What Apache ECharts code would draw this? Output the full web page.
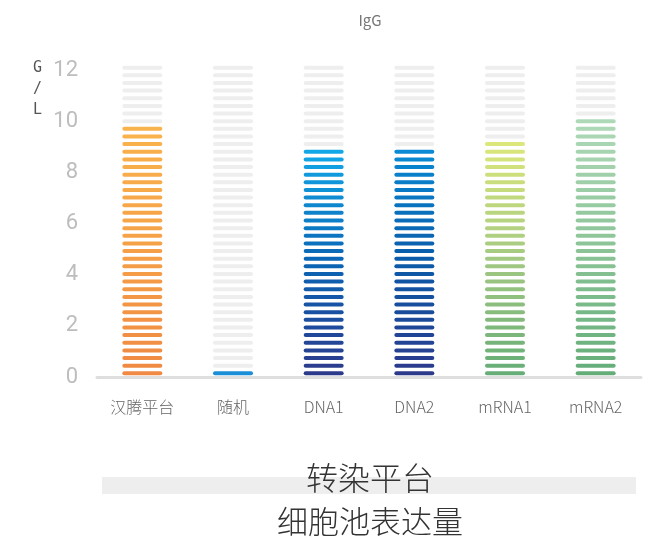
<!DOCTYPE html>
<html>
<head>
<meta charset="utf-8">
<script src="https://cdn.jsdelivr.net/npm/echarts@6/dist/echarts.min.js"></script>
<style>
html,body{margin:0;padding:0;background:#fff;}
#c{width:652px;height:538px;}
</style>
</head>
<body>
<div id="c"></div>
<script>
// ---- data ----
const categories = ['汉腾平台', '随机', 'DNA1', 'DNA2', 'mRNA1', 'mRNA2'];
const values = [9.8, 0.2, 8.9, 8.9, 9.2, 10.1];
const yTicks = [0, 2, 4, 6, 8, 10, 12];
const titleText = 'IgG';
const unitText = 'G\n/\nL';
const footerTop = '转染平台';
const footerBottom = '细胞池表达量';

// ---- styles (bottom -> top gradient stops per bar) ----
const barColors = [
  ['#ef8943', '#f5a048', '#f9b34c'],
  ['#1a8ed6', '#1a8ed6'],
  ['#2c3a8c', '#0a64b4', '#12a8e8'],
  ['#2c3a8c', '#0a5aa8', '#0a8ad4'],
  ['#66ad77', '#a4c982', '#dbe77b'],
  ['#64ad79', '#8cc497', '#aed9b8']
];
const STRIPES = 41;
const yMax = yTicks[yTicks.length - 1];

const chart = echarts.init(document.getElementById('c'), null, {renderer: 'canvas'});

function renderItem(params, api) {
  const idx = api.value(0);
  const val = api.value(1);
  const p0 = api.coord([idx, 0]);
  const pMax = api.coord([idx, yMax]);
  const pv = api.coord([idx, val]);
  const x = p0[0];
  const w = 40, h = 4;
  const firstC = p0[1] - 3.7;
  const lastC = pMax[1] - 2.3;
  const pitch = (firstC - lastC) / (STRIPES - 1);
  let n = 0;
  for (let i = 0; i < STRIPES; i++) {
    const top = firstC - i * pitch - h / 2;
    if (top >= pv[1] - 1) n = i + 1;
  }
  const children = [];
  const stops = barColors[idx];
  for (let i = 0; i < STRIPES; i++) {
    const c = firstC - i * pitch;
    let fill = '#eeeeee';
    if (i < n) {
      const t = n > 1 ? i / (n - 1) : 0;
      fill = echarts.color.lerp(t, stops);
    }
    children.push({
      type: 'rect',
      shape: {x: x - w / 2, y: c - h / 2, width: w, height: h, r: 2},
      style: {fill: fill}
    });
  }
  return {type: 'group', children: children};
}

const option = {
  backgroundColor: '#ffffff',
  animation: false,
  grid: {left: 97, right: 11, top: 70, bottom: 161},
  xAxis: {
    type: 'category',
    data: categories,
    axisLine: {lineStyle: {color: '#dedede', width: 3}},
    axisTick: {show: false},
    axisLabel: {
      color: '#666666',
      fontSize: 16,
      margin: 22,
      fontFamily: 'Noto Sans CJK SC',
      fontWeight: 300
    }
  },
  yAxis: {
    type: 'value',
    min: 0,
    max: yMax,
    interval: 2,
    axisLine: {show: false},
    axisTick: {show: false},
    splitLine: {show: false},
    axisLabel: {
      color: '#bdbdbd',
      fontSize: 22,
      margin: 19,
      fontFamily: 'Roboto',
      formatter: function (v) { return yTicks.indexOf(v) >= 0 ? String(v) : ''; }
    }
  },
  series: [{
    type: 'custom',
    renderItem: renderItem,
    data: values.map(function (v, i) { return [i, v]; }),
    encode: {x: 0, y: 1}
  }],
  graphic: [
    {
      type: 'text', x: 370, y: 20,
      style: {text: titleText, fill: '#777777', fontSize: 15, fontFamily: 'Noto Sans CJK SC', align: 'center', verticalAlign: 'middle'}
    },
    {
      type: 'text', x: 33, y: 58,
      style: {text: unitText, fill: '#555555', fontSize: 15, lineHeight: 21, fontFamily: 'DejaVu Sans Mono', align: 'left', verticalAlign: 'top'}
    },
    {
      type: 'rect', x: 102, y: 477,
      shape: {width: 534, height: 17},
      style: {fill: '#eeeeee'}
    },
    {
      type: 'text', x: 370, y: 478,
      style: {text: footerTop, fill: '#333333', fontSize: 32, fontWeight: 300, fontFamily: 'Noto Sans CJK SC', align: 'center', verticalAlign: 'middle'}
    },
    {
      type: 'text', x: 370, y: 521,
      style: {text: footerBottom, fill: '#333333', fontSize: 31, fontWeight: 300, fontFamily: 'Noto Sans CJK SC', align: 'center', verticalAlign: 'middle'}
    }
  ]
};
chart.setOption(option);
</script>
</body>
</html>
